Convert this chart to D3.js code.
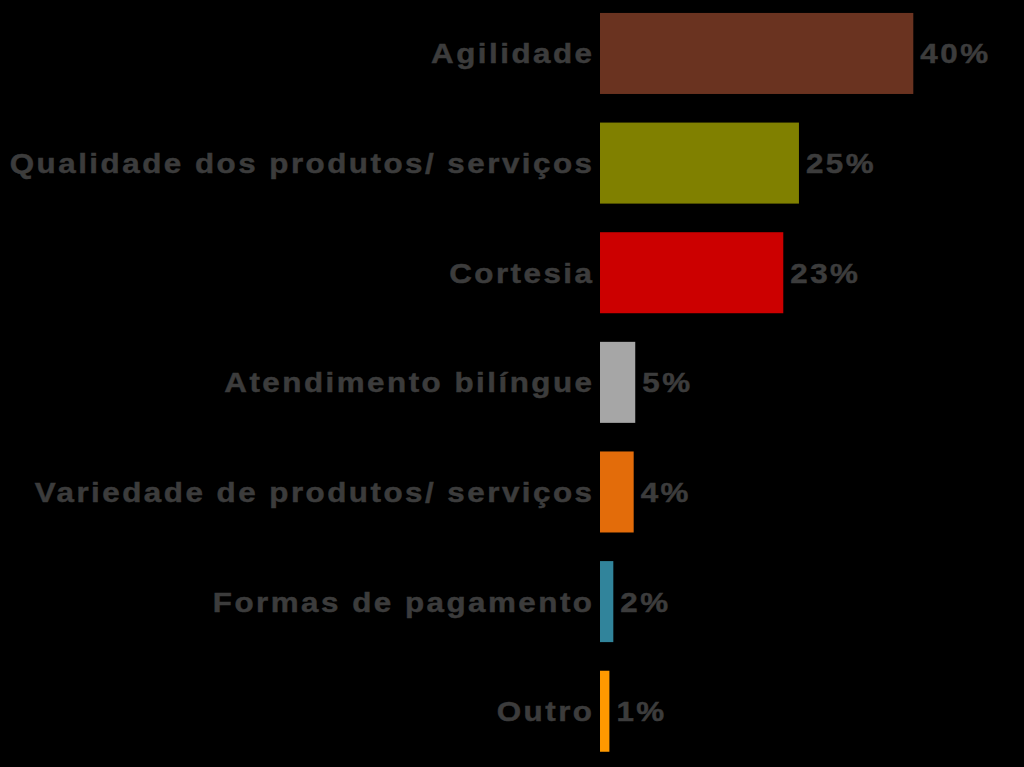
<!DOCTYPE html>
<html><head><meta charset="utf-8">
<script src="https://cdn.jsdelivr.net/npm/d3@7"></script>
<style>html,body{margin:0;padding:0;background:#000;}svg{display:block;}</style>
</head><body>
<svg id="c" width="1024" height="767"></svg>
<script>
const categories = ["Agilidade","Qualidade dos produtos/ serviços","Cortesia","Atendimento bilíngue","Variedade de produtos/ serviços","Formas de pagamento","Outro"];
const values = [40.0, 25.4, 23.4, 4.5, 4.3, 1.7, 1.2];
const colors = ["#6A3320","#808000","#CC0000","#A6A6A6","#E36C0A","#31849B","#FF9900"];

const svg = d3.select("#c");
const x0 = 600;
const x = d3.scaleLinear().domain([0, 40]).range([x0, 913.3]);
const y = d3.scaleBand().domain(categories).range([-1.3, 766]).paddingInner(0.261).paddingOuter(0.13);

const data = categories.map((c,i)=>({c, v: values[i], col: colors[i]}));

svg.selectAll("rect.bar").data(data).join("rect")
  .attr("class","bar")
  .attr("x", x(0)).attr("y", d=>y(d.c))
  .attr("width", d=>x(d.v)-x(0)).attr("height", y.bandwidth())
  .attr("fill", d=>d.col);

const font = "'Liberation Sans', Arial, sans-serif";
const sx = 1.1;
function styleText(sel){
  sel.attr("dominant-baseline","central")
    .style("font-family", font).style("font-weight","bold").style("font-size","28.5px")
    .style("letter-spacing","2.27px")
    .attr("fill","#3c3c3c").attr("stroke","#3c3c3c").attr("stroke-width",0.5);
}
svg.selectAll("text.cat").data(data).join("text")
  .attr("class","cat")
  .attr("transform", d=>`translate(594.5,${y(d.c)+y.bandwidth()/2}) scale(${sx},1)`)
  .attr("text-anchor","end")
  .call(styleText).text(d=>d.c);

svg.selectAll("text.val").data(data).join("text")
  .attr("class","val")
  .attr("transform", d=>`translate(${x(d.v)+7},${y(d.c)+y.bandwidth()/2}) scale(${sx},1)`)
  .call(styleText).text(d=>Math.round(d.v)+"%");
</script>
</body></html>
